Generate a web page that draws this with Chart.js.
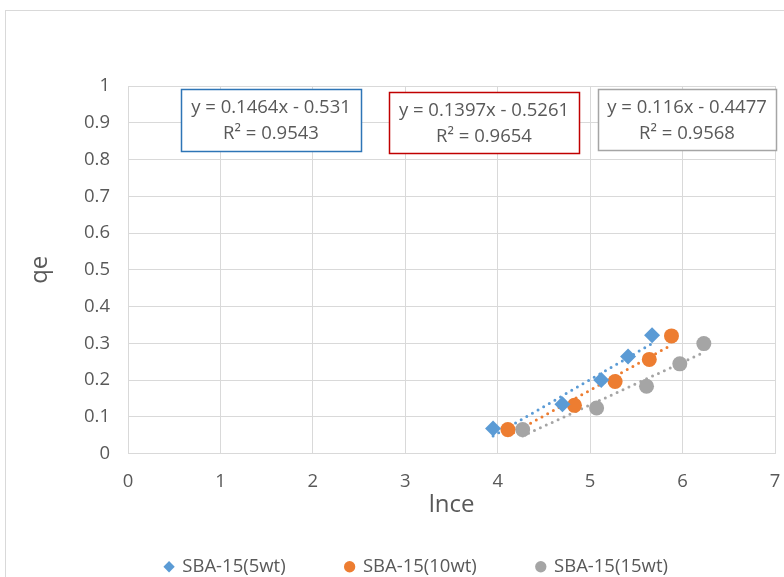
<!DOCTYPE html>
<html lang="en">
<head>
    <meta charset="UTF-8">
    <title>qe vs lnce</title>
    <script src="https://cdn.jsdelivr.net/npm/chart.js@4.4.0/dist/chart.umd.min.js"></script>
    <style>
        * { margin: 0; padding: 0; }
        body { background: #fff; }
        #wrap { width: 784px; height: 577px; position: relative; }
    </style>
</head>
<body>
    <div id="wrap"><canvas id="chart"></canvas></div>

    <script>
        // Series
        const seriesNames = ['SBA-15(5wt)', 'SBA-15(10wt)', 'SBA-15(15wt)'];
        const lnce5 = [3.95, 4.70, 5.12, 5.41, 5.67];
        const qe5 = [0.068, 0.134, 0.200, 0.264, 0.322];
        const lnce10 = [4.11, 4.83, 5.27, 5.64, 5.88];
        const qe10 = [0.065, 0.131, 0.196, 0.256, 0.320];
        const lnce15 = [4.27, 5.07, 5.61, 5.97, 6.23];
        const qe15 = [0.065, 0.124, 0.183, 0.244, 0.299];

        // Trendline equations shown on the chart
        const slopes = [0.1464, 0.1397, 0.116];
        const intercepts = [-0.531, -0.5261, -0.4477];
        const rSquared = ['0.9543', '0.9654', '0.9568'];
        const eqLabels = ['y = 0.1464x - 0.531', 'y = 0.1397x - 0.5261', 'y = 0.116x - 0.4477'];

        const xTicks = [0, 1, 2, 3, 4, 5, 6, 7];
        const yTicks = [0, 0.1, 0.2, 0.3, 0.4, 0.5, 0.6, 0.7, 0.8, 0.9, 1];

        const colors = ['#5B9BD5', '#ED7D31', '#A5A5A5'];
        const boxColors = ['#2E75B6', '#C00000', '#A5A5A5'];
        const styles = ['rectRot', 'circle', 'circle'];
        const FONT = "'Open Sans', sans-serif";
        const TEXT = '#595959';

        const xs = [lnce5, lnce10, lnce15];
        const ys = [qe5, qe10, qe15];

        const datasets = [];
        xs.forEach((x, i) => {
            datasets.push({
                label: seriesNames[i],
                data: x.map((v, k) => ({ x: v, y: ys[i][k] })),
                backgroundColor: colors[i],
                borderColor: colors[i],
                pointStyle: styles[i],
                pointRadius: i === 0 ? 8 : 7.5,
                pointBorderWidth: 0,
                showLine: false,
                order: 1
            });
        });
        xs.forEach((x, i) => {
            const lo = Math.min(...x), hi = Math.max(...x);
            datasets.push({
                label: 'trend' + i,
                data: [lo, hi].map(v => ({ x: v, y: slopes[i] * v + intercepts[i] })),
                borderColor: colors[i],
                borderWidth: 3,
                borderDash: [0, 6.5],
                borderCapStyle: 'round',
                pointRadius: 0,
                showLine: true,
                fill: false,
                order: 2
            });
        });

        // equation boxes (pixel positions of the text boxes)
        const eqBoxes = [
            { x: 181, y: 89, w: 180, h: 62 },
            { x: 389, y: 92, w: 190, h: 61 },
            { x: 598, y: 89, w: 178, h: 61 }
        ];

        const extras = {
            id: 'extras',
            beforeDraw(chart) {
                const ctx = chart.ctx;
                ctx.save();
                ctx.strokeStyle = '#d9d9d9';
                ctx.lineWidth = 1;
                ctx.strokeRect(5.5, 10.5, 900, 700);
                ctx.restore();
            },
            afterDatasetsDraw(chart) {
                const ctx = chart.ctx;
                ctx.save();
                eqBoxes.forEach((b, i) => {
                    ctx.fillStyle = '#fff';
                    ctx.fillRect(b.x, b.y, b.w, b.h);
                    ctx.strokeStyle = boxColors[i];
                    ctx.lineWidth = 1.5;
                    ctx.strokeRect(b.x + 0.5, b.y + 0.5, b.w, b.h);
                    ctx.fillStyle = TEXT;
                    ctx.font = '18.5px ' + FONT;
                    ctx.textAlign = 'center';
                    ctx.textBaseline = 'middle';
                    const cx = b.x + b.w / 2;
                    ctx.fillText(eqLabels[i], cx, b.y + 19);
                    ctx.fillText('R\u00B2 = ' + rSquared[i], cx, b.y + 45);
                });
                ctx.restore();
            }
        };

        new Chart(document.getElementById('chart'), {
            type: 'scatter',
            data: { datasets },
            plugins: [extras],
            options: {
                responsive: true,
                maintainAspectRatio: false,
                animation: false,
                layout: { padding: { top: 86, right: 9, bottom: -9, left: 58 } },
                plugins: {
                    tooltip: { enabled: false },
                    legend: {
                        position: 'bottom',
                        labels: {
                            usePointStyle: true,
                            boxWidth: 8,
                            boxHeight: 8,
                            padding: 60,
                            color: TEXT,
                            font: { family: FONT, size: 18.5 },
                            filter: item => item.datasetIndex < 3
                        }
                    }
                },
                scales: {
                    x: {
                        type: 'linear',
                        min: 0, max: 7,
                        afterBuildTicks: s => { s.ticks = xTicks.map(v => ({ value: v })); },
                        ticks: { color: TEXT, font: { family: FONT, size: 18.5 }, padding: 17, callback: v => String(v) },
                        grid: { color: '#d9d9d9', drawTicks: false },
                        border: { color: '#d9d9d9' },
                        title: { display: true, text: 'lnce', color: TEXT, font: { family: FONT, size: 24 }, padding: { top: 0, bottom: -22 } },
                        afterFit: s => { s.height = 44; s.paddingRight = 0; s.paddingLeft = 0; }
                    },
                    y: {
                        type: 'linear',
                        min: 0, max: 1,
                        afterBuildTicks: s => { s.ticks = yTicks.map(v => ({ value: v })); },
                        ticks: { color: TEXT, font: { family: FONT, size: 18.5 }, padding: 18, callback: v => String(v) },
                        grid: { color: '#d9d9d9', drawTicks: false },
                        border: { color: '#d9d9d9' },
                        title: { display: true, text: 'qe', color: TEXT, font: { family: FONT, size: 24 }, padding: { top: -32, bottom: 0 } },
                        afterFit: s => { s.width = 70; }
                    }
                }
            }
        });
    </script>
</body>
</html>
